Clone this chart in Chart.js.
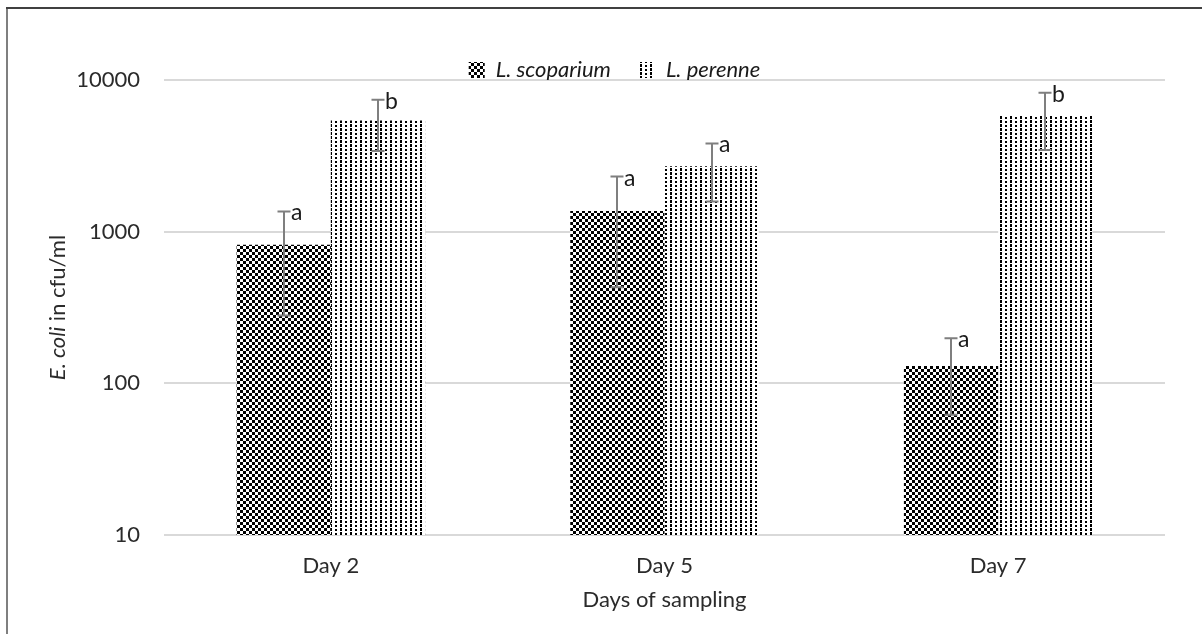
<!DOCTYPE html>
<html>
<head>
<meta charset="utf-8">
<title>E. coli counts by sampling day</title>
<script src="https://cdn.jsdelivr.net/npm/chart.js@4.4.1/dist/chart.umd.min.js"></script>
<style>
  html, body { margin: 0; padding: 0; background: #ffffff; }
  #wrap { width: 1202px; height: 634px; }
</style>
</head>
<body>
<div id="wrap"><canvas id="chart" width="1202" height="634"></canvas></div>
<script>
// Sampling days and the two plant species
const days = ['Day 2', 'Day 5', 'Day 7'];
const speciesNames = ['L. scoparium', 'L. perenne'];

// Mean E. coli counts (cfu/ml) and standard deviations
const scopariumMean = [820, 1370, 130];
const scopariumSD = [540, 940, 68];
const perenneMean = [5400, 2700, 5850];
const perenneSD = [2000, 1120, 2400];

// Significance letters shown above each bar
const scopariumLetters = ['a', 'a', 'a'];
const perenneLetters = ['b', 'a', 'b'];

// Labelled ticks on the log axis
const yTicks = [10, 100, 1000, 10000];

const FONT = 'Lato, "Open Sans", sans-serif';
const SIZE = 22;
const TEXT = '#2b2b2b';

// Black-and-white fill patterns for the bars
function makePattern(w, h, blocks) {
  const c = document.createElement('canvas');
  c.width = w; c.height = h;
  const g = c.getContext('2d');
  g.fillStyle = '#ffffff';
  g.fillRect(0, 0, w, h);
  g.fillStyle = '#000000';
  blocks.forEach(([x, y, bw, bh]) => g.fillRect(x, y, bw, bh));
  return g.createPattern(c, 'repeat');
}
const checkerFill = makePattern(6, 6, [[0, 0, 3, 3], [3, 3, 3, 3]]);
const dashFill = makePattern(10, 8, [[0, 0, 2, 3], [0, 4, 2, 3], [5, 1, 2, 2], [5, 5, 2, 2]]);

// Outer frame of the figure
const frame = {
  id: 'frame',
  beforeDraw(chart) {
    const { ctx, width, height } = chart;
    ctx.save();
    ctx.fillStyle = '#ffffff';
    ctx.fillRect(0, 0, width, height);
    ctx.lineWidth = 2;
    ctx.strokeStyle = '#7f7f7f';
    ctx.beginPath();
    ctx.moveTo(7, 8); ctx.lineTo(7, height);
    ctx.stroke();
    ctx.strokeStyle = '#404040';
    ctx.beginPath();
    ctx.moveTo(6, 8); ctx.lineTo(width, 8);
    ctx.stroke();
    ctx.restore();
  }
};

// Standard-deviation whiskers and significance letters
const errorBars = {
  id: 'errorBars',
  afterDatasetsDraw(chart) {
    const { ctx } = chart;
    const y = chart.scales.y;
    ctx.save();
    chart.data.datasets.forEach((ds, i) => {
      const meta = chart.getDatasetMeta(i);
      meta.data.forEach((bar, j) => {
        const v = ds.data[j];
        const sd = ds.errors[j];
        const x = Math.round(bar.x);
        const yTop = y.getPixelForValue(v + sd);
        const yBot = y.getPixelForValue(Math.max(v - sd, 10));
        ctx.strokeStyle = '#7f7f7f';
        ctx.lineWidth = 2;
        ctx.beginPath();
        ctx.moveTo(x, yTop); ctx.lineTo(x, yBot);
        ctx.moveTo(x - 6.5, yTop); ctx.lineTo(x + 6.5, yTop);
        ctx.moveTo(x - 6.5, yBot); ctx.lineTo(x + 6.5, yBot);
        ctx.stroke();
        ctx.fillStyle = '#1a1a1a';
        ctx.font = '23px ' + FONT;
        ctx.textAlign = 'left';
        ctx.textBaseline = 'alphabetic';
        ctx.fillText(ds.letters[j], x + 7, yTop + 9);
      });
    });
    ctx.restore();
  }
};

// Y-axis title with the italic species name
const yTitle = {
  id: 'yTitle',
  afterDraw(chart) {
    const { ctx, chartArea } = chart;
    const italicPart = 'E. coli';
    const plainPart = ' in cfu/ml';
    ctx.save();
    ctx.translate(58, (chartArea.top + chartArea.bottom) / 2);
    ctx.rotate(-Math.PI / 2);
    ctx.fillStyle = TEXT;
    ctx.textBaseline = 'middle';
    ctx.textAlign = 'left';
    ctx.font = 'italic ' + SIZE + 'px ' + FONT;
    const w1 = ctx.measureText(italicPart).width;
    ctx.font = SIZE + 'px ' + FONT;
    const w2 = ctx.measureText(plainPart).width;
    const start = -(w1 + w2) / 2;
    ctx.font = 'italic ' + SIZE + 'px ' + FONT;
    ctx.fillText(italicPart, start, 0);
    ctx.font = SIZE + 'px ' + FONT;
    ctx.fillText(plainPart, start + w1, 0);
    ctx.restore();
  }
};

new Chart(document.getElementById('chart'), {
  type: 'bar',
  data: {
    labels: days,
    datasets: [
      {
        label: speciesNames[0],
        data: scopariumMean,
        errors: scopariumSD,
        letters: scopariumLetters,
        backgroundColor: checkerFill,
        borderWidth: 0
      },
      {
        label: speciesNames[1],
        data: perenneMean,
        errors: perenneSD,
        letters: perenneLetters,
        backgroundColor: dashFill,
        borderWidth: 0
      }
    ]
  },
  options: {
    responsive: false,
    animation: false,
    devicePixelRatio: 1,
    categoryPercentage: 0.565,
    barPercentage: 1.0,
    layout: { padding: { top: 31, left: 64, right: 37, bottom: 0 } },
    plugins: {
      tooltip: { enabled: false },
      legend: {
        position: 'top',
        maxHeight: 49,
        labels: {
          boxWidth: 16,
          boxHeight: 16,
          padding: 28,
          color: '#1a1a1a',
          font: { family: FONT, size: SIZE, style: 'italic' }
        }
      }
    },
    scales: {
      x: {
        grid: { display: false, drawTicks: false },
        border: { display: false },
        ticks: { color: TEXT, padding: 18, font: { family: FONT, size: SIZE } },
        title: {
          display: true,
          text: 'Days of sampling',
          color: TEXT,
          font: { family: FONT, size: SIZE },
          padding: { top: 0, bottom: 21 }
        },
        afterFit(scale) { scale.height = 99; }
      },
      y: {
        type: 'logarithmic',
        min: 10,
        max: 10000,
        afterBuildTicks(scale) { scale.ticks = yTicks.map(v => ({ value: v })); },
        afterFit(scale) { scale.width = 100; },
        grid: { color: '#d9d9d9', lineWidth: 2, drawTicks: false },
        border: { display: false },
        ticks: {
          color: TEXT,
          padding: 24,
          font: { family: FONT, size: SIZE },
          callback: v => String(v)
        }
      }
    }
  },
  plugins: [frame, errorBars, yTitle]
});
</script>
</body>
</html>
